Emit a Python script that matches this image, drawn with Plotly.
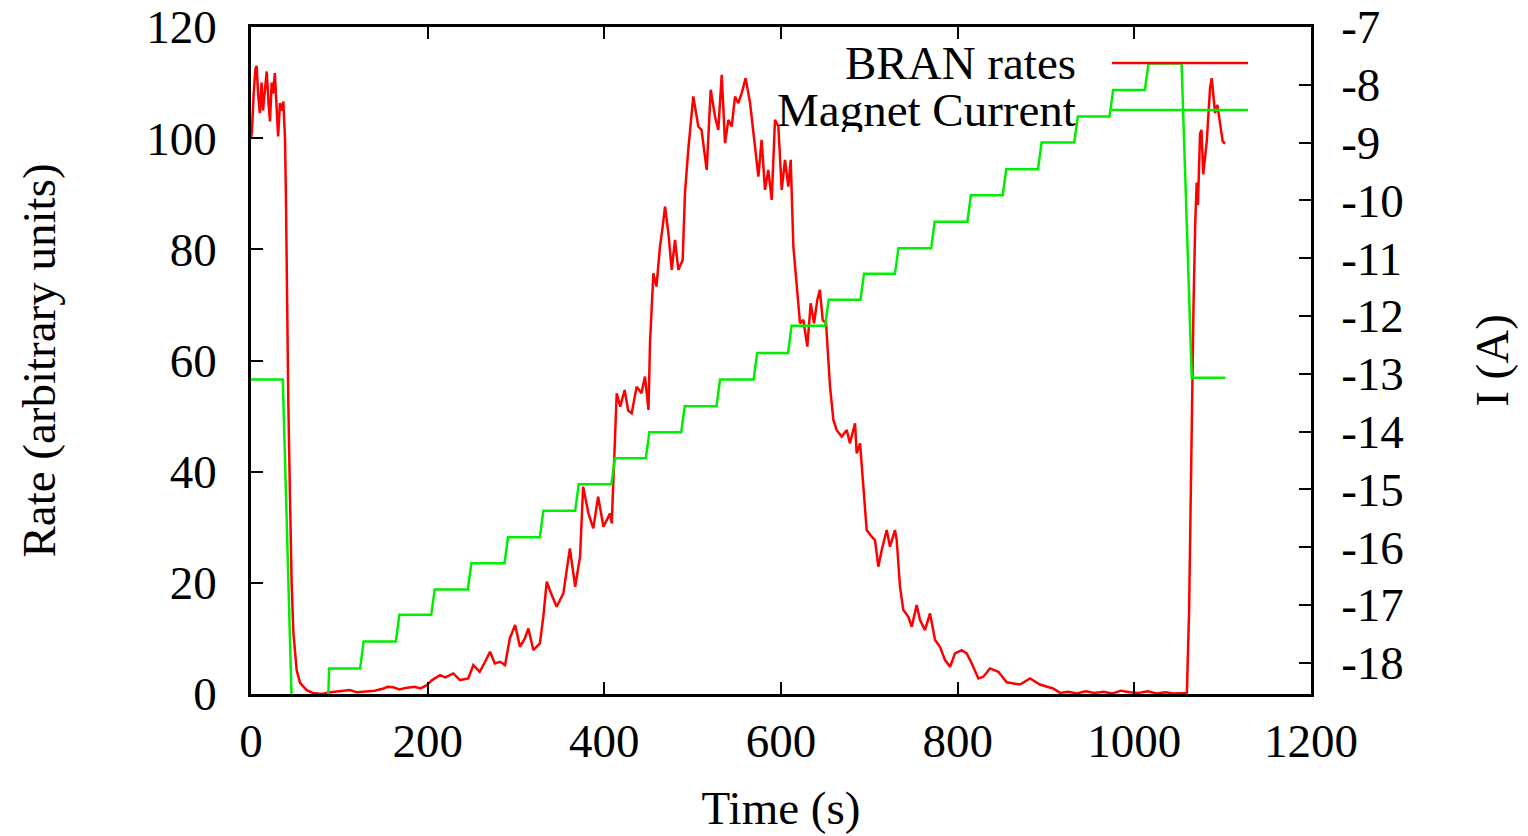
import plotly.graph_objects as go

# ---- BRAN rates (left axis, arbitrary units) ----
rate_t = [0, 1, 3, 5, 6.4, 8, 10, 12, 13.6, 16, 17.8, 20, 21.5, 23.4, 25, 27, 29, 30.7, 32.8, 35, 36.6,
          38.5, 39.5, 40.5, 42.2, 44.2, 46, 48, 51.7, 55.5, 63, 70, 80, 90, 100, 112, 120, 130, 140, 150,
          155, 161, 168, 175, 185, 192, 199, 205, 214, 220, 229, 236.6, 246, 251.7, 259, 265, 270.6, 276,
          282, 287.6, 293, 299, 304.5, 310, 314, 319.6, 327, 331, 334.8, 340, 346, 353.6, 361, 367, 372.5,
          376, 382, 387.5, 393, 399, 406.5, 408.4, 412, 414, 418, 423, 427, 431, 436.6, 442, 446, 450,
          451.7, 455.5, 459, 463, 466, 468.7, 472.5, 476.3, 480, 483.8, 488.7, 491.3, 495, 500.7, 506.4,
          510, 515.9, 520.4, 525.3, 529, 532.9, 536.6, 540.4, 544.2, 548, 551.6, 555.5, 560, 565, 568.7,
          574.4, 578, 581.9, 585.6, 589.5, 593.2, 597, 600.8, 604.5, 608.3, 611, 614, 617.8, 621.5, 625.3,
          629.8, 633.6, 637.4, 641.1, 644, 647.2, 651, 655.5, 659.3, 663, 668.7, 674.4, 678, 683.8, 685.7,
          689.5, 693.2, 697, 702.7, 706.4, 710.2, 714, 719.7, 723.4, 729, 731, 734.7, 738.5, 744.2, 748,
          753.6, 757.4, 763, 768.7, 774.4, 780, 785.7, 791.4, 797, 804.6, 810.2, 816, 823.4, 829, 836.6,
          846, 855.5, 870.6, 882, 893, 908, 916, 925, 935, 945, 955, 965, 975, 985, 995, 1005, 1015, 1025,
          1035, 1045, 1055, 1059.5, 1062, 1064.5, 1067, 1069, 1070.6, 1072, 1074.4, 1076, 1078, 1082,
          1085.7, 1087.6, 1091.4, 1094, 1097, 1100, 1102.7]
rate_v = [100, 101, 108, 112.5, 113, 108, 104.5, 110, 105, 109, 112, 106, 103, 110, 108, 111.7, 106, 100.3,
          106.3, 105, 106.6, 100, 90, 72, 53, 35, 20, 11, 4.3, 2, 0.7, 0.2, 0, 0.3, 0.5, 0.7, 0.3, 0.4, 0.6,
          1.0, 1.3, 1.2, 0.8, 1.1, 1.3, 1.0, 1.6, 2.5, 3.4, 3.0, 3.7, 2.5, 2.8, 5.2, 4.0, 5.8, 7.6, 5.5, 5.8,
          5.2, 10, 12.4, 8.5, 10, 11.8, 7.9, 9.1, 14, 20.2, 18, 15.7, 18.1, 26.2, 19.3, 24.7, 37.3, 32.5,
          29.8, 35.5, 30.1, 32.5, 30.7, 48.1, 54.1, 51.7, 54.7, 51, 50.5, 55.3, 54.1, 57.1, 51.1, 63.1, 75.7,
          73.3, 80.5, 84, 87.7, 82.9, 76.3, 81.7, 76.3, 78.1, 90.1, 97.9, 107.5, 102.1, 101.5, 94.3, 108.7,
          103.9, 101.5, 111.4, 99.1, 103.3, 102.1, 107.5, 106.3, 108.1, 110.8, 106.3, 100.9, 93.1, 99.7,
          90.7, 94.3, 88.9, 103.3, 102.1, 90.7, 96.1, 91.3, 96.1, 80.5, 73.3, 66.7, 67.3, 62.5, 70.3, 66.7,
          70.9, 72.7, 67.3, 66.7, 55.3, 49.3, 47.5, 46.3, 47.5, 45.1, 48.7, 43.3, 45.1, 37.3, 29.5, 28.3,
          27.7, 22.9, 25.9, 29.5, 26.5, 29.5, 27.7, 19.3, 15.1, 13.9, 12.1, 16.0, 13.3, 11.5, 14.5, 9.7, 8.5,
          6.1, 4.9, 7.3, 7.9, 7.3, 5.5, 2.8, 3.1, 4.6, 4.0, 2.1, 1.7, 2.8, 1.7, 1.0, 0.2, 0.4, 0.1, 0.5, 0.2,
          0.4, 0.1, 0.6, 0.3, 0.2, 0.5, 0.1, 0.3, 0.1, 0.2, 0.2, 15, 45, 70, 85, 92, 88, 100.8, 101.5, 93.5,
          99.4, 109, 110.8, 104.5, 106, 103, 99.4, 99]

# ---- Magnet current (right axis, A) ----
cur_t = [0, 36, 47, 86, 88.5,
         123.5, 127.5, 164, 168, 204, 208, 245.5, 249.5, 287, 291, 327, 331, 367, 371,
         408, 412, 447, 451, 487, 491, 527, 531, 569, 573, 608, 612, 650, 654, 690, 694,
         729, 733, 770, 774, 811, 815, 851, 855, 891, 895, 932, 936, 972, 976, 1012, 1016,
         1053.5, 1065, 1103]
cur_v = [-13.1, -13.1, -19.2, -19.2, -18.1,
         -18.1, -17.63, -17.63, -17.17, -17.17, -16.73, -16.73, -16.28, -16.28, -15.83,
         -15.83, -15.37, -15.37, -14.91, -14.91, -14.46, -14.46, -14.01, -14.01, -13.56,
         -13.56, -13.10, -13.10, -12.64, -12.64, -12.17, -12.17, -11.72, -11.72, -11.27,
         -11.27, -10.83, -10.83, -10.37, -10.37, -9.91, -9.91, -9.46, -9.46, -9.0,
         -9.0, -8.55, -8.55, -8.09, -8.09, -7.63,
         -7.63, -13.07, -13.07]

x_ticks = [0, 200, 400, 600, 800, 1000, 1200]
y_ticks = [0, 20, 40, 60, 80, 100, 120]
y2_ticks = [-18, -17, -16, -15, -14, -13, -12, -11, -10, -9, -8, -7]
y2_labels = ["-18", "-17", "-16", "-15", "-14", "-13", "-12", "-11", "-10", "-9", "-8", "-7"]

series_names = ["BRAN rates", "Magnet Current"]
series_colors = ["#ff0000", "#00ee00"]

FONT = "Liberation Serif"
FS = 47

fig = go.Figure()
fig.add_trace(go.Scatter(x=rate_t, y=rate_v, mode="lines", name=series_names[0],
                         line=dict(color=series_colors[0], width=2.5), yaxis="y"))
fig.add_trace(go.Scatter(x=cur_t, y=cur_v, mode="lines", name=series_names[1],
                         line=dict(color=series_colors[1], width=2.5), yaxis="y2"))

axis_common = dict(showgrid=False, zeroline=False, ticks="inside", ticklen=12, tickwidth=2,
                   tickcolor="black", showline=True, linecolor="black", linewidth=2.5,
                   automargin=False,
                   tickfont=dict(family=FONT, size=FS, color="black"))

fig.update_layout(
    width=1528, height=836, autosize=False,
    margin=dict(l=251, r=217, t=27, b=142),
    paper_bgcolor="white", plot_bgcolor="white",
    showlegend=False,
    font=dict(family=FONT, size=FS, color="black"),
    xaxis=dict(range=[0, 1200], tickvals=x_ticks, mirror="ticks", ticklabelstandoff=4,
               title=dict(text="Time (s)", font=dict(family=FONT, size=FS), standoff=25),
               **axis_common),
    yaxis=dict(range=[0, 120], tickvals=y_ticks, mirror=False, ticklabelstandoff=22,
               title=dict(text="Rate (arbitrary units)", font=dict(family=FONT, size=FS), standoff=76),
               **axis_common),
    yaxis2=dict(range=[-18.54, -7], tickvals=y2_ticks, ticktext=y2_labels, overlaying="y",
                side="right", ticklabelstandoff=18,
                title=dict(text="I (A)", font=dict(family=FONT, size=FS), standoff=73),
                **axis_common),
)

# gnuplot-style key: text right-aligned, sample line to the right
key_rows = [(0.946, 0), (0.8756, 1)]
for ypos, i in key_rows:
    fig.add_annotation(x=0.7802, y=ypos, xref="paper", yref="paper", text=series_names[i],
                       showarrow=False, xanchor="right", yanchor="middle", height=44,
                       font=dict(family=FONT, size=FS, color="black"))
    fig.add_shape(type="line", xref="paper", yref="paper", x0=0.8123, x1=0.9406, y0=ypos, y1=ypos,
                  line=dict(color=series_colors[i], width=2.5))

fig.write_html("out.html")
